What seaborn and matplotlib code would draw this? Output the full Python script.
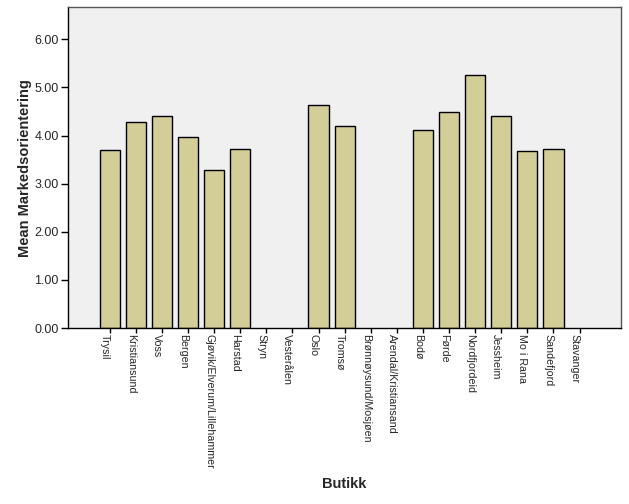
import matplotlib
matplotlib.use("Agg")
import matplotlib.pyplot as plt
import seaborn as sns
import pandas as pd
import numpy as np

# Store categories in display order (empty ones have no bar)
butikk = ["Trysil", "Kristiansund", "Voss", "Bergen", "Gjøvik/Elverum/Lillehammer",
          "Harstad", "Stryn", "Vesterålen", "Oslo", "Tromsø",
          "Brønnøysund/Mosjøen", "Arendal/Kristiansand", "Bodø", "Førde",
          "Nordfjordeid", "Jessheim", "Mo i Rana", "Sandefjord", "Stavanger"]
mean_markedsorientering = [3.71, 4.29, 4.41, 3.98, 3.29,
                           3.73, np.nan, np.nan, 4.64, 4.19,
                           np.nan, np.nan, 4.12, 4.50,
                           5.25, 4.41, 3.67, 3.72, np.nan]
y_ticks = [0, 1, 2, 3, 4, 5, 6]

df = pd.DataFrame({"Butikk": butikk, "Mean": mean_markedsorientering})
df_bars = df.dropna()

sns.set_style("white")
plt.rcParams['font.family'] = ['Liberation Sans', 'DejaVu Sans']

fig = plt.figure(figsize=(6.29, 5.04), dpi=100)
ax = fig.add_axes([0.108, 0.349, 0.879, 0.637])
ax.set_facecolor("#F0F0F0")

sns.barplot(data=df_bars, x="Butikk", y="Mean", order=butikk, color="#D3CE97",
            saturation=1, edgecolor="black", linewidth=1, width=0.77, ax=ax)

ax.set_xlim(-1.6, len(butikk) - 1 + 1.58)
ax.set_ylim(0, 6.67)
ax.set_yticks(y_ticks)
ax.set_yticklabels([f"{v:.2f}" for v in y_ticks], fontsize=9)
ax.set_xticks(range(len(butikk)))
ax.set_xticklabels(butikk, rotation=-90, fontsize=7.7, ha="left", va="top",
                   rotation_mode="anchor")

ax.tick_params(axis="y", direction="out", length=5, width=1, color="black",
               left=True, pad=1.5)
ax.tick_params(axis="x", direction="out", length=3.6, width=1, color="black",
               bottom=True, pad=1)

for side in ["left", "bottom", "top", "right"]:
    ax.spines[side].set_visible(True)
    ax.spines[side].set_color("#555555")
    ax.spines[side].set_linewidth(1)
ax.spines["left"].set_color("black")
ax.spines["bottom"].set_color("black")

ax.set_xlabel("Butikk", fontsize=10.5, fontweight="bold")
ax.set_ylabel("Mean Markedsorientering", fontsize=10.5, fontweight="bold", labelpad=2)
ax.xaxis.set_label_coords(0.5, -0.465)

fig.savefig("out.png", dpi=100)
